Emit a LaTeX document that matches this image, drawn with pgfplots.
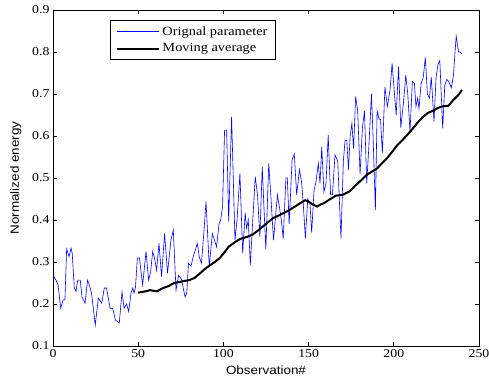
\documentclass[border=0pt]{standalone}
\usepackage{pgfplots}
\pgfplotsset{compat=1.18}
\usepackage{fontspec}
\setmainfont{Liberation Serif}[FakeStretch=1.15]
\newfontfamily\labelfont{Liberation Sans}[FakeStretch=1.12]

\begin{document}
\begin{tikzpicture}
\path[use as bounding box] (0,0) rectangle (489pt,386pt);
\begin{axis}[
  at={(53pt,40pt)}, anchor=south west,
  scale only axis, width=426pt, height=336pt,
  xmin=0, xmax=250, ymin=0.1, ymax=0.9,
  xtick={0,50,...,250},
  ytick={0.1,0.2,...,0.9},
  yticklabel style={/pgf/number format/.cd,fixed,fixed zerofill,precision=1},
  /pgf/number format/assume math mode=true,
  tick align=inside,
  major tick length=4pt,
  axis line style={line width=0.8pt},
  every tick/.style={black, line width=0.7pt},
  tick label style={font=\fontsize{12}{14}\selectfont},
  xlabel={Observation\#},
  ylabel={Normalized energy},
  label style={font=\labelfont\fontsize{12}{14}\selectfont},
  xlabel style={yshift=-1pt},
  ylabel style={at={(axis description cs:-0.066,0.5)}, anchor=south},
  legend style={at={(0.134,0.970)}, anchor=north west, draw=black,
    line width=0.8pt, font=\fontsize{12.5}{14}\selectfont,
    inner xsep=6pt, inner ysep=4pt, row sep=3pt},
  legend cell align=left,
  legend image code/.code={\draw[#1] (0pt,0pt) -- (42pt,0pt);},
]
\addplot[blue, line width=0.6pt] coordinates {
(0,0.269) (2,0.255) (3,0.245) (4.5,0.190) (6,0.21) (7,0.21) (8,0.331)
(9.4,0.313) (10.6,0.333) (11.3,0.32) (12.5,0.238) (13.5,0.23) (14.5,0.257)
(16,0.257) (17,0.217) (18.8,0.202) (20.3,0.257) (21.7,0.24) (22.6,0.226)
(24.8,0.15) (26.6,0.214) (28.6,0.202) (30.1,0.238) (31.4,0.238) (33.5,0.190)
(35,0.19) (36.6,0.162) (38.9,0.155) (40.5,0.229) (41.7,0.19) (43.2,0.2)
(44.4,0.182) (45.8,0.226) (46.8,0.238) (47.6,0.226) (48.4,0.24) (49.5,0.309)
(50.7,0.31) (52.6,0.245) (54.6,0.325) (56.1,0.257) (57.3,0.277) (58.5,0.325)
(59.6,0.309) (60.8,0.28) (62.2,0.344) (63.7,0.265) (65.5,0.368) (67.2,0.273)
(69.2,0.352) (70.6,0.376) (72.2,0.233) (73.7,0.268) (75.3,0.26) (77.5,0.217)
(78.5,0.226) (79.5,0.297) (81,0.29) (82.3,0.313) (84.7,0.344) (85.8,0.313)
(87.1,0.297) (88.5,0.368) (89.8,0.444) (91.7,0.289) (93.5,0.368) (94.8,0.352)
(96,0.336) (97.4,0.39) (98.4,0.40) (99.5,0.432) (100.7,0.614) (101.9,0.614)
(103.1,0.396) (104.8,0.646) (106.8,0.352) (108,0.40) (109.7,0.511) (111.3,0.321)
(112.8,0.417) (113.6,0.38) (114.6,0.40) (115.8,0.293) (117.1,0.39) (118.7,0.503)
(120,0.46) (121.4,0.36) (122.8,0.527) (123.8,0.43) (124.9,0.33) (126.6,0.535)
(127.8,0.46) (129.4,0.352) (131.7,0.46) (132.9,0.43) (134,0.40) (135.1,0.356)
(136.7,0.50) (137.5,0.50) (138.6,0.39) (140.3,0.543) (141.6,0.557) (143,0.46)
(144.6,0.52) (145.9,0.49) (147,0.43) (148.1,0.356) (149.5,0.45) (150.8,0.44)
(151.8,0.37) (153.2,0.471) (154.3,0.49) (155.7,0.535) (156.7,0.487) (157.7,0.574)
(159,0.467) (160.2,0.487) (161.5,0.602) (162.9,0.46) (164,0.46) (165.5,0.555)
(167.1,0.54) (169,0.356) (170.4,0.54) (171.4,0.59) (172.4,0.59) (173.4,0.52)
(174.4,0.60) (175.4,0.63) (176.4,0.57) (177.6,0.694) (178.8,0.66) (180.2,0.51)
(181.6,0.62) (182.8,0.66) (184.1,0.487) (185.3,0.57) (186.9,0.70) (187.9,0.59)
(189.2,0.424) (190.2,0.66) (191.4,0.64) (192.2,0.64) (193.3,0.56) (194.8,0.717)
(196.2,0.67) (197.8,0.71) (199,0.773) (200.2,0.71) (201.4,0.65) (202.8,0.765)
(204.1,0.62) (205.7,0.68) (207,0.745) (208.2,0.70) (209.5,0.61) (210.9,0.73)
(212.1,0.725) (213,0.67) (214,0.69) (214.8,0.665) (216,0.725) (217.3,0.74)
(218.5,0.787) (219.7,0.70) (220.9,0.69) (222,0.74) (223.6,0.634) (224.8,0.74)
(225.9,0.77) (227,0.78) (228.7,0.618) (229.9,0.72) (231.1,0.735) (232.2,0.73)
(233.8,0.715) (235,0.745) (236.6,0.838) (238,0.80) (239,0.80) (240,0.795)
};
\addlegendentry{Orignal parameter}
\addplot[black, line width=2pt] coordinates {
(50,0.227) (54,0.230) (57,0.233) (61,0.230) (64,0.237) (68,0.243) (71,0.250)
(75,0.253) (80,0.257) (83,0.262) (86,0.272) (89,0.283) (92,0.292) (95,0.300)
(98,0.310) (101,0.325) (103,0.336) (107,0.348) (110,0.355) (114,0.360)
(117,0.365) (120,0.374) (123,0.384) (126,0.394) (129,0.404) (133,0.412)
(136,0.418) (138,0.422) (142,0.432) (145,0.440) (148,0.447) (150,0.444)
(152,0.438) (155,0.432) (157,0.437) (159,0.440) (162,0.448) (166,0.458)
(170,0.460) (174,0.468) (178,0.484) (181,0.495) (184,0.507) (187,0.515)
(190,0.522) (193,0.535) (196,0.547) (199,0.562) (202,0.578) (205,0.590)
(208,0.603) (211,0.617) (214,0.632) (217,0.645) (220,0.655) (223,0.660)
(226,0.667) (229,0.671) (232,0.672) (235,0.686) (238,0.698) (240,0.710)
};
\addlegendentry{Moving average}
\end{axis}
\end{tikzpicture}
\end{document}
